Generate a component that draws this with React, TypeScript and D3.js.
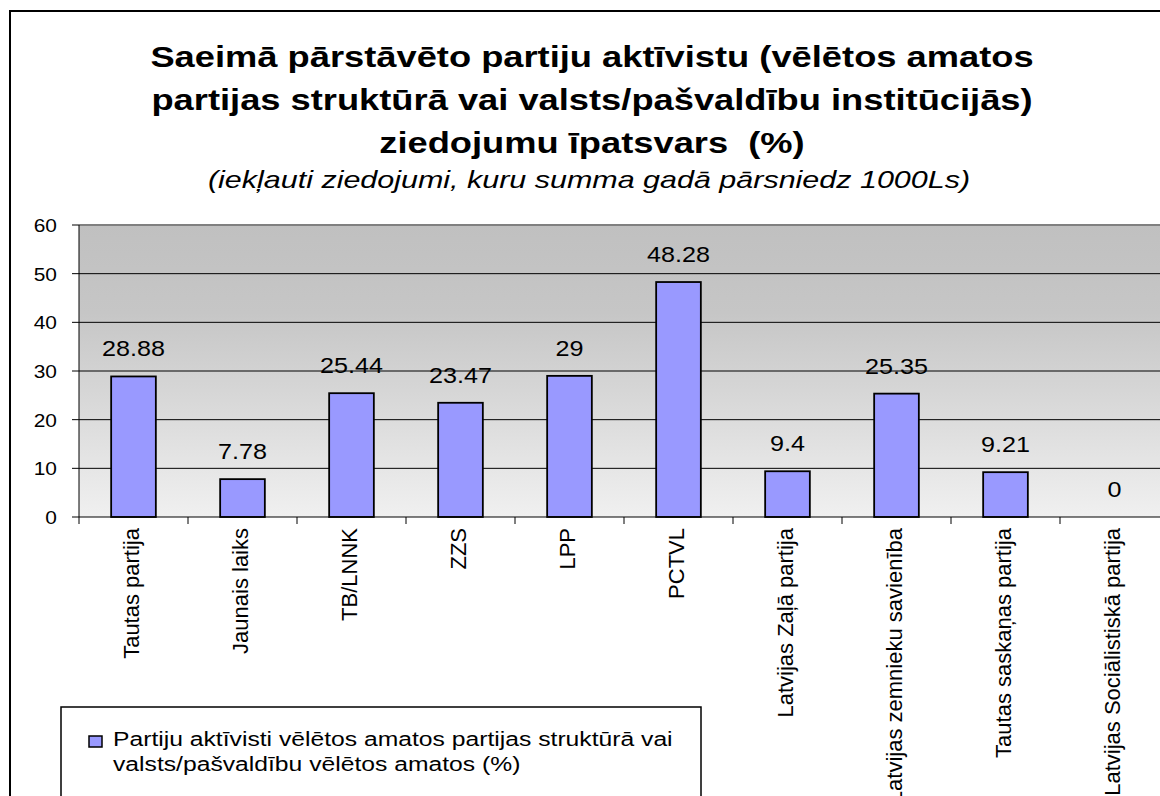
import React from 'react';
import * as d3 from 'd3';

const categories = [
  'Tautas partija',
  'Jaunais laiks',
  'TB/LNNK',
  'ZZS',
  'LPP',
  'PCTVL',
  'Latvijas Zaļā partija',
  'Latvijas zemnieku savienība',
  'Tautas saskaņas partija',
  'Latvijas Sociālistiskā partija',
];
const values = [28.88, 7.78, 25.44, 23.47, 29, 48.28, 9.4, 25.35, 9.21, 0];
const yTicks = [0, 10, 20, 30, 40, 50, 60];
const titleLines = [
  'Saeimā pārstāvēto partiju aktīvistu (vēlētos amatos',
  'partijas struktūrā vai valsts/pašvaldību institūcijās)',
  'ziedojumu īpatsvars  (%)',
];
const subtitle = '(iekļauti ziedojumi, kuru summa gadā pārsniedz 1000Ls)';
const legendLines = [
  'Partiju aktīvisti vēlētos amatos partijas struktūrā vai',
  'valsts/pašvaldību vēlētos amatos (%)',
];

const W = 1160;
const H = 796;
const FONT = '"Liberation Sans", Arial, Helvetica, sans-serif';

export default function App() {
  const plotLeft = 79;
  const plotTop = 225;
  const plotBottom = 517;
  const plotRight = 79 + 109 * categories.length;

  const x = d3.scaleBand<string>().domain(categories).range([plotLeft, plotRight]).padding(0);
  const y = d3.scaleLinear().domain([0, 60]).range([plotBottom, plotTop]);
  const barW = x.bandwidth() * 0.41;

  return (
    <div style={{ position: 'fixed', left: 0, top: 0, width: W, height: H, overflow: 'hidden', background: '#fff' }}>
      <svg width={W} height={H} style={{ display: 'block' }} fontFamily={FONT}>
        <defs>
          <linearGradient id="bg" x1="0" y1="0" x2="0" y2="1">
            <stop offset="0%" stopColor="#c0c0c0" />
            <stop offset="30%" stopColor="#c6c6c6" />
            <stop offset="100%" stopColor="#f0f0f0" />
          </linearGradient>
        </defs>
        <rect x={10} y={11} width={1300} height={1000} fill="#fff" stroke="#000" strokeWidth={2} />

        {titleLines.map((t, i) => (
          <text
            key={i}
            transform={`translate(592,${67 + i * 43}) scale(1.21,1)`}
            textAnchor="middle"
            fontSize={30}
            fontWeight="bold"
            fill="#000"
            style={{ whiteSpace: 'pre' }}
          >
            {t}
          </text>
        ))}
        <text
          transform={`translate(589,188) scale(1.27,1)`}
          textAnchor="middle"
          fontSize={24}
          fontStyle="italic"
          fill="#000"
        >
          {subtitle}
        </text>

        <rect x={plotLeft} y={plotTop} width={plotRight - plotLeft} height={plotBottom - plotTop} fill="url(#bg)" />
        {yTicks.filter((t) => t > 0 && t < 60).map((t) => (
          <line key={t} x1={plotLeft} x2={plotRight} y1={y(t)} y2={y(t)} stroke="#000" strokeWidth={1} />
        ))}
        <line x1={plotLeft} x2={plotRight} y1={y(60)} y2={y(60)} stroke="#808080" strokeWidth={2} />

        {categories.map((c, i) => {
          const v = values[i];
          const bx = (x(c) as number) + x.bandwidth() / 2 - barW / 2;
          return (
            <g key={c}>
              {v > 0 && (
                <rect x={bx} y={y(v)} width={barW} height={y(0) - y(v)} fill="#9999ff" stroke="#000" strokeWidth={1.8} />
              )}
              <text
                transform={`translate(${(x(c) as number) + x.bandwidth() / 2},${y(v) - 20}) scale(1.17,1)`}
                textAnchor="middle"
                fontSize={21.5}
                fill="#000"
              >
                {String(v)}
              </text>
            </g>
          );
        })}

        <line x1={plotLeft} x2={plotLeft} y1={plotTop} y2={plotBottom} stroke="#000" strokeWidth={1} />
        <line x1={plotLeft} x2={plotRight} y1={plotBottom} y2={plotBottom} stroke="#000" strokeWidth={1} />
        {yTicks.map((t) => (
          <g key={t}>
            <line x1={plotLeft - 7} x2={plotLeft} y1={y(t)} y2={y(t)} stroke="#000" />
            <text
              transform={`translate(57,${y(t) + 7}) scale(1.1,1)`}
              textAnchor="end"
              fontSize={19}
              fill="#000"
            >
              {t}
            </text>
          </g>
        ))}
        {categories.map((c, i) => (
          <line key={'t' + i} x1={x(c) as number} x2={x(c) as number} y1={plotBottom} y2={plotBottom + 7} stroke="#000" />
        ))}
        {categories.map((c) => (
          <text
            key={'l' + c}
            transform={`translate(${(x(c) as number) + x.bandwidth() / 2 + 5},528) rotate(-90)`}
            textAnchor="end"
            fontSize={22}
            fill="#000"
          >
            {c}
          </text>
        ))}

        <rect x={61} y={707} width={640} height={200} fill="#fff" stroke="#000" strokeWidth={1.5} />
        <rect x={89} y={736} width={13} height={11} fill="#9999ff" stroke="#000" strokeWidth={1.5} />
        {legendLines.map((t, i) => (
          <text
            key={i}
            transform={`translate(113,${746 + i * 25}) scale(1.176,1)`}
            fontSize={21}
            fill="#000"
          >
            {t}
          </text>
        ))}
      </svg>
    </div>
  );
}
